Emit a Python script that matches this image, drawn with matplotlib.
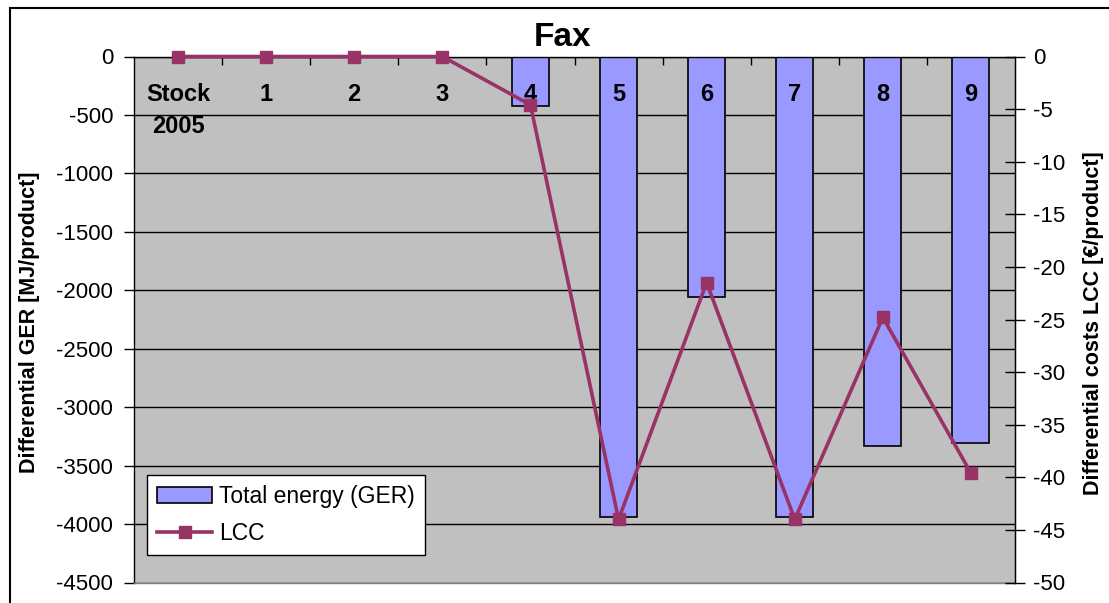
import numpy as np
import matplotlib.pyplot as plt
from matplotlib.patches import Rectangle

plt.rcParams['font.family'] = ['Liberation Sans', 'DejaVu Sans']
plt.rcParams['axes.unicode_minus'] = False

categories = ["Stock\n2005", "1", "2", "3", "4", "5", "6", "7", "8", "9"]
ger = [0, 0, 0, 0, -420, -3940, -2055, -3940, -3335, -3310]
lcc = [0, 0, 0, 0, -4.6, -44.0, -21.5, -44.0, -24.8, -39.6]

bar_color = "#9999FF"
line_color = "#993366"

W, H = 1109, 603
fig = plt.figure(figsize=(W / 100, H / 100), dpi=100)
ax = fig.add_axes([134 / W, 1 - 582.5 / H, (1015 - 134) / W, (582.5 - 56.5) / H])
ax.set_facecolor("#C0C0C0")

x = np.arange(len(categories))
ax.bar(x, ger, width=0.42, color=bar_color, edgecolor="black", linewidth=1.2,
       label="Total energy (GER)", zorder=2)
ax.set_xlim(-0.5, len(categories) - 0.5)
ax.set_ylim(-4500, 0)
ax.set_yticks(np.arange(-4500, 1, 500))
ax.yaxis.grid(True, color="black", linewidth=1)
ax.set_axisbelow(True)
ax.tick_params(axis="y", labelsize=16, length=7, width=1, direction="out", pad=8)

# category ticks at the top (zero line), labels drawn inside the plot
ax.set_xticks([])
ax.set_xticks(x[:-1] + 0.5, minor=True)
ax.tick_params(axis="x", which="minor", top=True, bottom=False, direction="in",
               length=6, width=1)
for xi, lab in zip(x, categories):
    ax.text(xi, 0.95, lab, transform=ax.get_xaxis_transform(), ha="center", va="top",
            fontsize=17, fontweight="bold", linespacing=1.5, zorder=5)

for s in ax.spines.values():
    s.set_color("black")
    s.set_linewidth(1)
ax.spines["bottom"].set_color("#808080")

ax2 = ax.twinx()
ax2.plot(x, lcc, color=line_color, linewidth=2.6, marker="s", markersize=8, label="LCC",
         zorder=3, clip_on=False)
ax2.set_ylim(-50, 0)
ax2.set_yticks(np.arange(-50, 1, 5))
ax2.tick_params(axis="y", labelsize=16, length=14, width=1, direction="inout", pad=6)
for s in ax2.spines.values():
    s.set_visible(False)
ax2.spines["right"].set_visible(True)
ax2.spines["right"].set_color("black")

h1, l1 = ax.get_legend_handles_labels()
h2, l2 = ax2.get_legend_handles_labels()
leg = ax2.legend(h1 + h2, l1 + l2, loc="lower left", bbox_to_anchor=(0.0148, 0.052),
                 borderaxespad=0, fontsize=16.5, fancybox=False, framealpha=1,
                 edgecolor="black", handlelength=2.4, handletextpad=0.3,
                 borderpad=0.45, labelspacing=0.6)
leg.get_frame().set_linewidth(1)

fig.text(563 / W, 1 - 37 / H, "Fax", ha="center", va="center", fontsize=24,
         fontweight="bold")
fig.text(30 / W, 1 - 322 / H, "Differential GER [MJ/product]", rotation=90,
         ha="center", va="center", fontsize=15.5, fontweight="bold")
fig.text(1094 / W, 1 - 323 / H, "Differential costs LCC [€/product]", rotation=90,
         ha="center", va="center", fontsize=15.5, fontweight="bold")

fig.patches.append(Rectangle((10 / W, 1 - 1.2), 1.2, 1.2 - 8 / H, transform=fig.transFigure,
                             fill=False, edgecolor="black", linewidth=1.5))

fig.savefig("out.png", dpi=100)
